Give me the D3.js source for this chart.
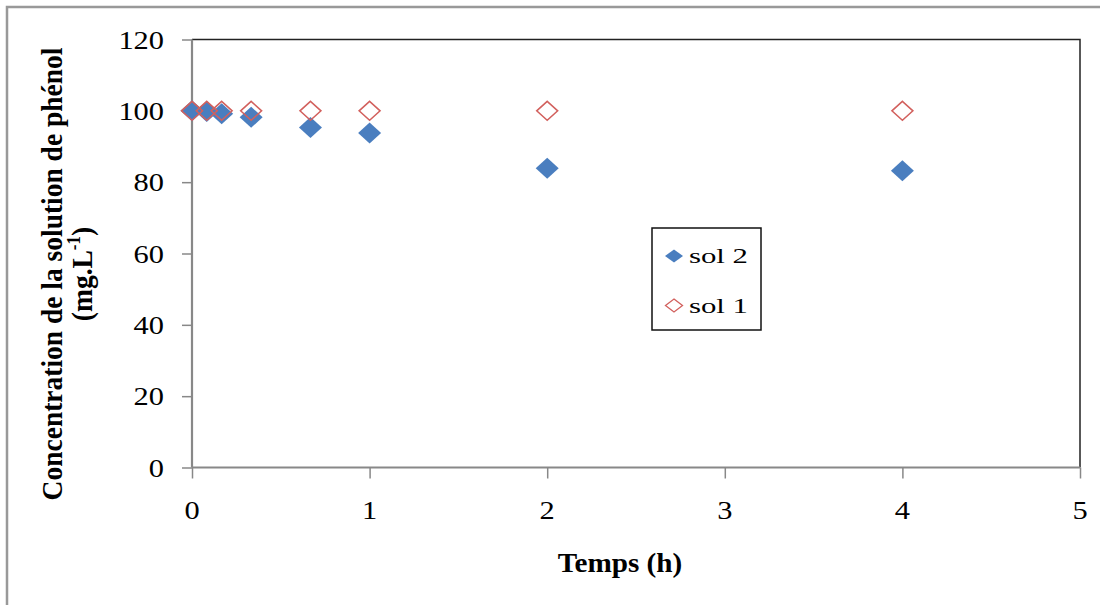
<!DOCTYPE html>
<html>
<head>
<meta charset="utf-8">
<script src="https://cdn.jsdelivr.net/npm/d3@7"></script>
<style>
html,body{margin:0;padding:0;background:#fff;}
svg{display:block;}
text{font-family:"Liberation Serif","Times New Roman",serif;fill:#000;}
</style>
</head>
<body>
<svg id="chart" width="1100" height="605"></svg>
<script>
// ---- data ----
const times = [0, 0.083, 0.167, 0.333, 0.667, 1, 2, 4];
const sol2 = [100, 99.8, 99.2, 98.2, 95.3, 93.8, 83.9, 83.2];
const sol1 = [100, 100, 100, 100, 100, 100, 100, 100];
const xTicks = [0, 1, 2, 3, 4, 5];
const yTicks = [0, 20, 40, 60, 80, 100, 120];
const seriesNames = ["sol 2", "sol 1"];
const xTitle = "Temps (h)";
const yTitle1 = "Concentration de la solution de phénol";

const svg = d3.select("#chart");
const L = 192, R = 1080, T = 39.5, B = 467.5;
const x = d3.scaleLinear().domain([0, 5]).range([L, R]);
const y = d3.scaleLinear().domain([0, 120]).range([B, T]);

// outer border
svg.append("rect").attr("x", 7).attr("y", 7).attr("width", 1110).attr("height", 620)
  .attr("fill", "none").attr("stroke", "#999").attr("stroke-width", 2.5);

// plot frame top/right
svg.append("path").attr("d", `M${L},${T}H${R}V${B}`).attr("fill", "none")
  .attr("stroke", "#222").attr("stroke-width", 1.5);

// axes
const xAxis = d3.axisBottom(x).tickValues(xTicks).tickSize(11).tickFormat("");
const yAxis = d3.axisLeft(y).tickValues(yTicks).tickSize(10).tickFormat("");
const gx = svg.append("g").attr("transform", `translate(0,${B})`).call(xAxis);
const gy = svg.append("g").attr("transform", `translate(${L},0)`).call(yAxis);
[gx, gy].forEach(g => {
  g.select(".domain").attr("stroke", "#888").attr("stroke-width", 2.2);
  g.selectAll(".tick line").attr("stroke", "#888").attr("stroke-width", 1.5);
});
// remove domain end caps
gx.select(".domain").attr("d", `M${L},0H${R}`);
gy.select(".domain").attr("d", `M0,${B}V${T}`);

// tick labels
svg.append("g").selectAll("text").data(yTicks).join("text")
  .attr("transform", d => `translate(164,${y(d) + 9}) scale(1.17,1)`)
  .attr("text-anchor", "end").attr("font-size", 26).text(d => d);
svg.append("g").selectAll("text").data(xTicks).join("text")
  .attr("transform", d => `translate(${x(d)},519) scale(1.17,1)`)
  .attr("text-anchor", "middle").attr("font-size", 26).text(d => d);

// axis titles
svg.append("text").attr("transform", "translate(620,572) scale(1.08,1)")
  .attr("text-anchor", "middle").attr("font-size", 27).attr("font-weight", "bold").text(xTitle);

const yt = svg.append("g").attr("transform", "translate(0,274)");
yt.append("text").attr("transform", "translate(62,0) rotate(-90) scale(1,1.1)")
  .attr("text-anchor", "middle").attr("font-size", 27.5).attr("font-weight", "bold").text(yTitle1);
const t2 = yt.append("text").attr("transform", "translate(92,0) rotate(-90) scale(1,1.1)")
  .attr("text-anchor", "middle").attr("font-size", 27.5).attr("font-weight", "bold");
t2.append("tspan").text("(mg.L");
t2.append("tspan").attr("dy", -11).attr("font-size", 17).text("-1");
t2.append("tspan").attr("dy", 11).text(")");

// markers
const diamond = (w, h) => `M0,${-h}L${w},0L0,${h}L${-w},0Z`;
svg.append("g").selectAll("path").data(times).join("path")
  .attr("d", diamond(11.5, 10.5))
  .attr("transform", (d, i) => `translate(${x(d)},${y(sol2[i])})`)
  .attr("fill", "#4a7ebf");
svg.append("g").selectAll("path").data(times).join("path")
  .attr("d", diamond(10.5, 9.5))
  .attr("transform", (d, i) => `translate(${x(d)},${y(sol1[i])})`)
  .attr("fill", "none").attr("stroke", "#d2605d").attr("stroke-width", 1.5);

// legend
const lg = svg.append("g");
lg.append("rect").attr("x", 652).attr("y", 228).attr("width", 109).attr("height", 102)
  .attr("fill", "#fff").attr("stroke", "#111").attr("stroke-width", 1.5);
lg.append("path").attr("d", diamond(9, 6.5)).attr("transform", "translate(674,256)").attr("fill", "#4a7ebf");
lg.append("path").attr("d", diamond(8.5, 6.5)).attr("transform", "translate(674,305.5)")
  .attr("fill", "none").attr("stroke", "#d2605d").attr("stroke-width", 1.3);
lg.selectAll("text.lt").data(seriesNames).join("text").attr("class", "lt")
  .attr("x", 689).attr("y", (d, i) => 263 + i * 50)
  .attr("font-size", 22).attr("textLength", 59).attr("lengthAdjust", "spacingAndGlyphs")
  .text(d => d);
</script>
</body>
</html>
